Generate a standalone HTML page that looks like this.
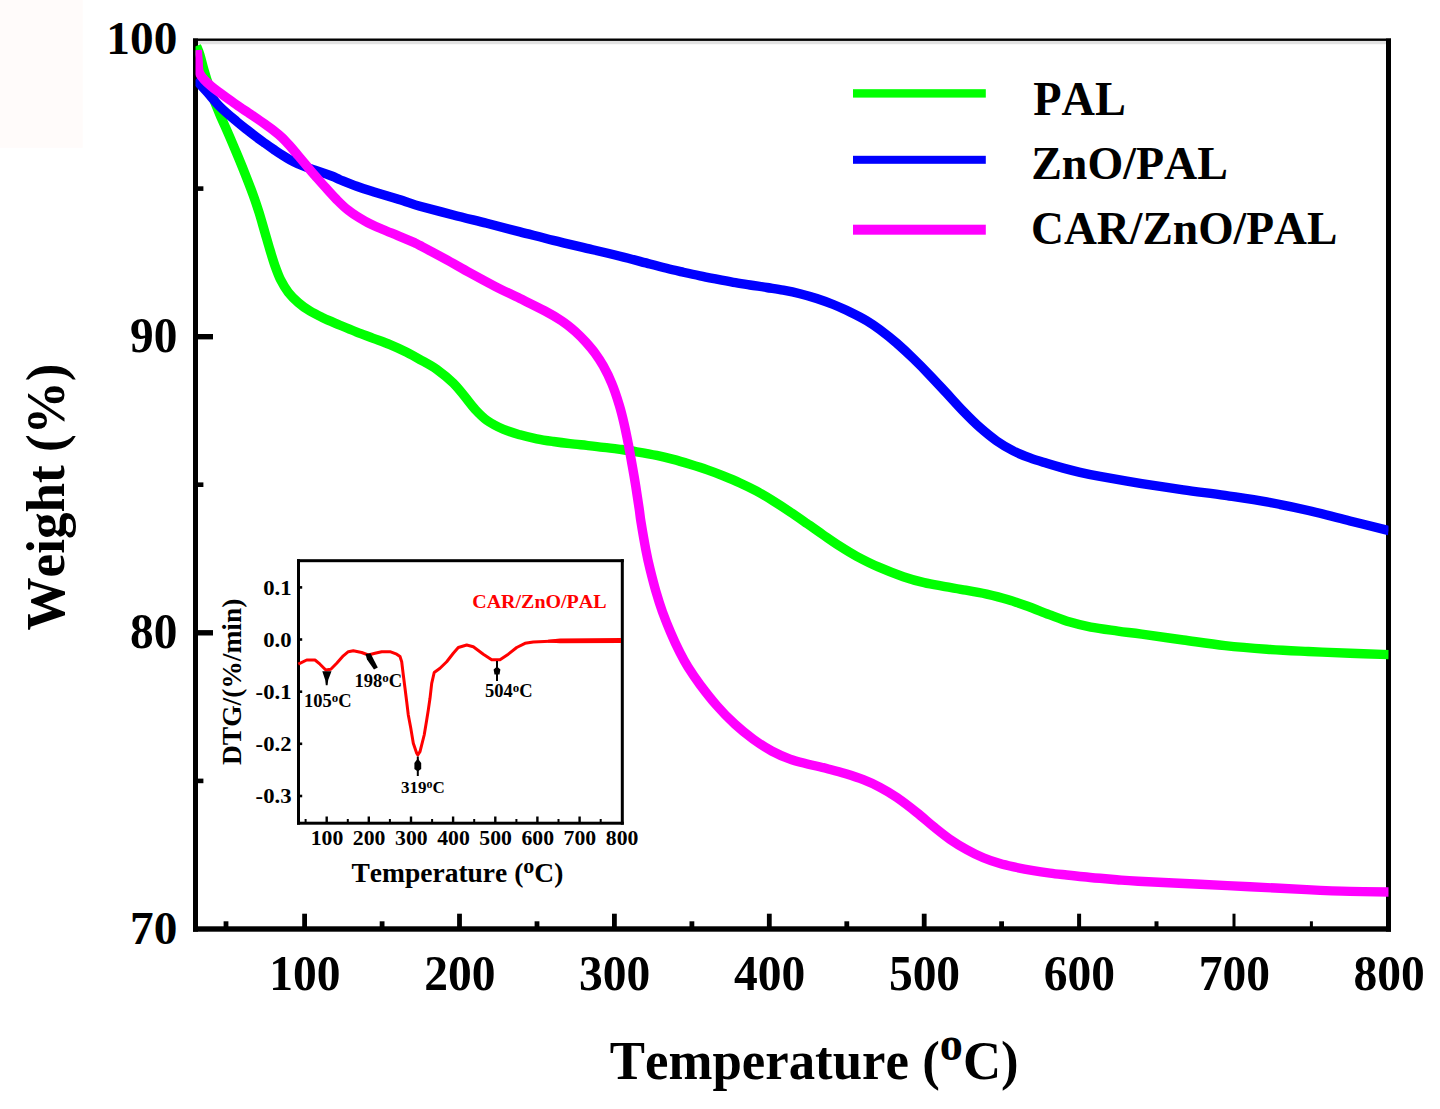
<!DOCTYPE html>
<html lang="en">
<head>
<meta charset="utf-8">
<title>TGA curves of PAL, ZnO/PAL and CAR/ZnO/PAL</title>
<style>
html,body{margin:0;padding:0;background:#fff;}
body{width:1440px;height:1109px;overflow:hidden;}
svg{display:block;font-family:"Liberation Serif",serif;}
text{font-family:"Liberation Serif",serif;font-kerning:none;}
</style>
</head>
<body>
<svg width="1440" height="1109" viewBox="0 0 1440 1109">
<defs><clipPath id="plotclip"><rect x="195.5" y="41" width="1193" height="886"/></clipPath></defs>
<rect x="0" y="0" width="82.7" height="147.8" fill="#fffbfa"/>
<rect x="193" y="40.8" width="1198" height="3.4" fill="#e2e2e2"/>
<rect x="193" y="38.5" width="1198" height="2.4" fill="#000"/>
<rect x="193" y="38.5" width="5" height="893.2" fill="#000"/>
<rect x="1386" y="38.5" width="5" height="893.2" fill="#000"/>
<rect x="193" y="926.3" width="1198" height="5.4" fill="#000"/>
<rect x="197" y="334.0" width="16" height="5.4" fill="#000"/>
<rect x="197" y="630.1" width="16" height="5.4" fill="#000"/>
<rect x="197" y="186.3" width="6.4" height="4.6" fill="#000"/>
<rect x="197" y="482.4" width="6.4" height="4.6" fill="#000"/>
<rect x="197" y="778.6" width="6.4" height="4.6" fill="#000"/>
<rect x="302.2" y="913.7" width="4.8" height="14" fill="#000"/>
<rect x="457.1" y="913.7" width="4.8" height="14" fill="#000"/>
<rect x="612.0" y="913.7" width="4.8" height="14" fill="#000"/>
<rect x="766.9" y="913.7" width="4.8" height="14" fill="#000"/>
<rect x="921.8" y="913.7" width="4.8" height="14" fill="#000"/>
<rect x="1077.1" y="913.7" width="4.0" height="14" fill="#000"/>
<rect x="1232.5" y="913.7" width="3.0" height="14" fill="#000"/>
<rect x="223.6" y="921.3" width="4.8" height="6" fill="#000"/>
<rect x="379.7" y="921.3" width="4.8" height="6" fill="#000"/>
<rect x="534.6" y="921.3" width="4.8" height="6" fill="#000"/>
<rect x="689.5" y="921.3" width="4.8" height="6" fill="#000"/>
<rect x="844.4" y="921.3" width="4.8" height="6" fill="#000"/>
<rect x="999.2" y="921.3" width="4.8" height="6" fill="#000"/>
<rect x="1154.5" y="921.3" width="4.0" height="6" fill="#000"/>
<rect x="1309.9" y="921.3" width="3.0" height="6" fill="#000"/>
<g fill="none" stroke-linejoin="round" stroke-linecap="butt" clip-path="url(#plotclip)">
<path d="M196.5 46.0C197.1 47.5 198.8 51.0 200.0 55.0C201.2 59.0 202.5 64.8 204.0 70.0C205.5 75.2 207.3 81.0 209.0 86.0C210.7 91.0 212.2 95.4 214.0 100.2C215.8 105.0 217.6 109.2 220.0 114.8C222.4 120.4 225.5 127.2 228.3 133.6C231.1 140.0 233.9 146.7 236.7 153.4C239.5 160.0 242.2 166.7 245.0 173.7C247.8 180.7 250.9 188.8 253.3 195.3C255.7 201.9 257.2 206.6 259.2 212.9C261.1 219.1 263.2 226.7 265.0 232.8C266.8 239.0 268.3 244.5 270.0 250.0C271.7 255.5 273.2 260.8 275.0 265.8C276.8 270.8 278.6 275.8 280.8 280.2C283.0 284.6 285.4 288.5 288.3 292.3C291.2 296.0 294.7 299.5 298.3 302.6C301.9 305.8 305.8 308.5 310.0 311.1C314.2 313.7 318.3 315.6 323.3 318.0C328.3 320.3 334.4 322.8 340.0 325.2C345.6 327.5 351.1 329.9 356.7 332.1C362.2 334.3 367.8 336.2 373.3 338.3C378.9 340.4 384.4 342.2 390.0 344.6C395.6 346.9 401.7 349.8 406.7 352.3C411.7 354.8 415.0 356.7 420.0 359.6C425.0 362.4 431.1 365.5 436.7 369.4C442.2 373.4 448.6 378.6 453.3 383.1C458.0 387.7 461.4 392.5 465.0 396.8C468.6 401.2 471.4 405.3 475.0 409.2C478.6 413.1 482.0 416.8 486.7 420.2C491.4 423.5 497.8 426.8 503.3 429.3C508.9 431.7 514.4 433.2 520.0 434.8C525.6 436.4 531.2 437.7 536.7 438.8C542.2 439.9 547.8 440.7 553.3 441.5C558.8 442.3 564.4 443.0 570.0 443.6C575.6 444.3 581.2 444.8 586.7 445.4C592.2 446.0 597.8 446.6 603.3 447.3C608.8 447.9 614.4 448.6 620.0 449.3C625.6 450.1 630.6 450.8 636.7 451.8C642.8 452.8 650.6 454.1 656.7 455.4C662.8 456.6 667.8 457.9 673.3 459.4C678.8 460.8 684.4 462.5 690.0 464.2C695.6 465.9 701.2 467.6 706.7 469.6C712.2 471.5 717.8 473.6 723.3 475.8C728.8 478.0 734.4 480.3 740.0 482.9C745.6 485.4 751.2 488.2 756.7 491.2C762.2 494.2 767.8 497.5 773.3 501.0C778.8 504.4 784.4 508.1 790.0 511.9C795.6 515.6 801.2 519.5 806.7 523.3C812.2 527.2 817.8 531.2 823.3 535.0C828.8 538.8 834.4 542.8 840.0 546.3C845.6 549.9 850.3 552.9 856.7 556.3C863.1 559.7 870.5 563.5 878.3 566.9C886.1 570.3 895.6 574.0 903.3 576.7C910.9 579.3 917.2 581.0 924.2 582.6C931.2 584.3 938.1 585.3 945.0 586.6C951.9 587.8 958.8 588.8 965.8 590.1C972.8 591.3 979.8 592.5 986.7 594.1C993.7 595.7 1000.6 597.4 1007.5 599.5C1014.4 601.5 1021.3 604.0 1028.3 606.5C1035.2 609.0 1042.2 612.0 1049.2 614.6C1056.2 617.2 1063.1 620.0 1070.0 622.1C1076.9 624.2 1082.8 625.6 1090.8 627.1C1098.8 628.6 1109.4 629.9 1117.9 631.1C1126.4 632.3 1130.8 632.6 1141.7 634.1C1152.6 635.6 1169.4 638.1 1183.3 640.0C1197.2 641.9 1211.1 644.1 1225.0 645.6C1238.9 647.1 1252.8 648.2 1266.7 649.2C1280.6 650.2 1294.4 650.8 1308.3 651.5C1322.2 652.2 1336.5 652.8 1350.0 653.3C1363.5 653.8 1382.5 654.4 1389.0 654.6" stroke="#00ff00" stroke-width="9.4"/>
<path d="M195.5 79.5C197.4 81.5 202.6 87.2 206.7 91.7C210.8 96.2 215.0 101.7 220.0 106.7C225.0 111.7 232.0 117.5 236.7 121.5C241.4 125.5 245.0 128.2 248.3 130.8C251.6 133.4 253.9 135.2 256.7 137.3C259.5 139.4 262.2 141.3 265.0 143.3C267.8 145.3 270.5 147.2 273.3 149.2C276.1 151.1 278.9 153.1 281.7 154.8C284.5 156.6 287.2 158.3 290.0 159.8C292.8 161.3 295.5 162.7 298.3 164.0C301.1 165.2 303.9 166.3 306.7 167.3C309.5 168.3 310.8 168.6 315.0 170.1C319.2 171.5 327.5 174.4 331.7 176.0C335.9 177.6 335.8 177.9 340.0 179.7C344.2 181.4 351.1 184.3 356.7 186.3C362.2 188.3 367.8 190.0 373.3 191.7C378.9 193.4 384.4 195.0 390.0 196.7C395.6 198.4 401.7 200.4 406.7 201.9C411.7 203.5 412.2 204.0 420.0 206.2C427.8 208.3 442.2 212.1 453.3 215.0C464.4 217.9 475.6 220.5 486.7 223.3C497.8 226.1 508.9 229.0 520.0 231.9C531.1 234.7 542.2 237.7 553.3 240.4C564.4 243.2 575.6 245.7 586.7 248.3C597.8 250.9 609.5 253.6 620.0 256.2C630.5 258.8 642.2 262.0 650.0 264.0C657.8 266.1 661.2 267.0 666.7 268.3C672.2 269.7 677.8 271.0 683.3 272.3C688.8 273.5 694.4 274.7 700.0 275.8C705.6 277.0 711.2 278.1 716.7 279.2C722.2 280.3 727.8 281.4 733.3 282.3C738.8 283.3 744.4 284.1 750.0 285.0C755.6 285.9 761.2 286.6 766.7 287.5C772.2 288.4 777.8 289.1 783.3 290.2C788.8 291.2 794.4 292.3 800.0 293.7C805.6 295.1 811.2 296.7 816.7 298.5C822.2 300.3 827.8 302.3 833.3 304.5C838.8 306.8 844.4 309.2 850.0 311.9C855.6 314.6 861.7 317.7 866.7 320.7C871.7 323.7 875.0 326.0 880.0 329.7C885.0 333.4 891.2 338.3 896.7 343.1C902.2 347.9 907.8 353.1 913.3 358.5C918.8 363.8 924.4 369.5 930.0 375.4C935.6 381.2 941.2 387.4 946.7 393.3C952.2 399.3 957.8 405.6 963.3 411.3C968.8 417.0 974.4 422.6 980.0 427.6C985.6 432.5 991.2 437.1 996.7 441.0C1002.2 444.9 1007.8 448.1 1013.3 450.9C1018.8 453.8 1024.4 455.9 1030.0 457.9C1035.6 460.0 1041.2 461.6 1046.7 463.3C1052.2 465.0 1057.8 466.6 1063.3 468.1C1068.8 469.6 1073.9 470.9 1080.0 472.3C1086.1 473.7 1089.7 474.5 1100.0 476.4C1110.3 478.2 1127.8 481.3 1141.7 483.6C1155.6 485.8 1169.4 487.8 1183.3 489.8C1197.2 491.8 1211.1 493.4 1225.0 495.4C1238.9 497.5 1252.8 499.4 1266.7 501.9C1280.6 504.5 1294.4 507.3 1308.3 510.5C1322.2 513.7 1336.5 517.6 1350.0 521.0C1363.5 524.3 1382.5 529.0 1389.0 530.6" stroke="#0000ff" stroke-width="9.4"/>
<path d="M197.3 50.0C197.4 51.7 197.6 56.0 198.0 60.0C198.4 64.0 197.7 69.5 200.0 74.0C202.3 78.5 206.4 82.2 211.7 86.7C217.0 91.2 227.0 97.8 231.7 101.2C236.4 104.6 237.2 105.3 240.0 107.2C242.8 109.1 245.5 110.8 248.3 112.7C251.1 114.5 253.9 116.4 256.7 118.3C259.5 120.3 262.2 122.2 265.0 124.2C267.8 126.2 270.5 128.0 273.3 130.2C276.1 132.4 278.9 134.6 281.7 137.2C284.5 139.9 287.2 142.9 290.0 146.0C292.8 149.1 295.5 152.5 298.3 155.8C301.1 159.1 303.9 162.5 306.7 165.8C309.5 169.1 311.9 172.1 315.0 175.6C318.1 179.1 321.5 183.1 325.0 186.9C328.5 190.8 332.1 194.9 336.0 198.9C339.9 202.8 343.5 206.6 348.3 210.3C353.1 214.1 359.4 218.0 365.0 221.1C370.6 224.3 376.1 226.6 381.7 229.0C387.2 231.5 392.8 233.5 398.3 235.8C403.9 238.1 411.4 241.3 415.0 242.9C418.6 244.6 415.0 242.9 420.0 245.5C425.0 248.2 436.7 254.3 445.0 258.9C453.3 263.4 461.7 268.4 470.0 272.9C478.3 277.5 486.7 282.0 495.0 286.3C503.3 290.6 511.7 294.4 520.0 298.5C528.3 302.6 538.0 307.3 545.0 311.0C552.0 314.7 556.7 317.5 561.7 320.9C566.7 324.2 571.0 327.8 575.0 331.3C579.0 334.9 582.7 338.7 586.0 342.3C589.3 346.0 592.1 349.2 595.0 353.1C597.9 357.1 600.5 360.9 603.3 365.9C606.1 370.9 609.1 376.8 611.7 383.3C614.4 389.7 617.1 398.0 619.2 404.8C621.3 411.6 622.7 417.6 624.2 424.2C625.7 430.7 626.9 436.8 628.3 443.9C629.7 451.1 631.2 460.0 632.5 467.1C633.8 474.2 634.7 479.6 635.8 486.6C636.9 493.5 638.3 503.0 639.2 508.9C640.1 514.8 639.9 515.4 641.0 522.1C642.1 528.9 644.3 541.8 645.8 549.6C647.3 557.4 648.3 562.0 650.0 568.9C651.7 575.8 653.7 583.8 655.8 591.0C657.9 598.2 660.0 605.0 662.5 612.0C665.0 618.9 667.9 626.1 670.8 632.8C673.7 639.6 677.1 647.0 680.0 652.7C682.9 658.4 684.7 661.8 688.0 667.1C691.3 672.4 695.2 678.2 700.0 684.6C704.8 691.0 710.9 698.9 716.7 705.5C722.5 712.2 728.9 718.7 735.0 724.3C741.1 729.9 747.2 734.8 753.3 739.3C759.4 743.7 765.6 747.7 771.7 751.0C777.8 754.3 783.9 756.9 790.0 759.1C796.1 761.3 802.2 762.6 808.3 764.2C814.4 765.7 820.6 766.9 826.7 768.5C832.8 770.1 838.9 771.6 845.0 773.5C851.1 775.4 857.5 777.4 863.3 779.7C869.1 782.0 874.4 784.3 880.0 787.3C885.6 790.2 890.6 793.2 896.7 797.4C902.8 801.6 910.6 807.6 916.7 812.5C922.8 817.3 927.8 821.9 933.3 826.4C938.8 830.8 944.4 835.4 950.0 839.3C955.6 843.2 961.2 846.6 966.7 849.6C972.2 852.7 977.8 855.4 983.3 857.8C988.8 860.1 994.4 862.0 1000.0 863.6C1005.6 865.3 1011.2 866.3 1016.7 867.5C1022.2 868.7 1027.8 869.7 1033.3 870.6C1038.8 871.6 1044.4 872.4 1050.0 873.1C1055.6 873.9 1061.2 874.4 1066.7 875.0C1072.2 875.6 1077.8 876.2 1083.3 876.7C1088.8 877.3 1094.4 877.8 1100.0 878.3C1105.6 878.8 1110.3 879.2 1116.7 879.7C1123.1 880.2 1124.4 880.5 1138.3 881.3C1152.2 882.0 1181.4 883.4 1200.0 884.3C1218.6 885.2 1232.2 885.8 1250.0 886.7C1267.8 887.6 1290.0 888.9 1306.7 889.6C1323.4 890.4 1336.3 891.0 1350.0 891.4C1363.7 891.7 1382.5 891.9 1389.0 892.0" stroke="#ff00ff" stroke-width="9.4"/>
</g>
<rect x="853" y="89.2" width="132.8" height="8.4" fill="#00ff00"/>
<rect x="853" y="155.8" width="132.8" height="8" fill="#0000ff"/>
<rect x="853" y="224.7" width="132.8" height="10" fill="#ff00ff"/>
<text transform="translate(1033.20 115.30) scale(1.0410 1.0800)" font-size="44.5" text-anchor="start" fill="#000" font-weight="bold">PAL</text>
<text transform="translate(1031.20 179.20) scale(1.0330 1.0500)" font-size="44.5" text-anchor="start" fill="#000" font-weight="bold">ZnO/PAL</text>
<text transform="translate(1031.00 243.70) scale(1.0245 1.0600)" font-size="44.5" text-anchor="start" fill="#000" font-weight="bold">CAR/ZnO/PAL</text>
<text transform="translate(177.30 54.00) scale(1.0000 0.9750)" font-size="47.3" text-anchor="end" fill="#000" font-weight="bold">100</text>
<text transform="translate(177.30 352.30) scale(1.0000 1.0500)" font-size="47.3" text-anchor="end" fill="#000" font-weight="bold">90</text>
<text transform="translate(177.30 648.40) scale(1.0000 1.0500)" font-size="47.3" text-anchor="end" fill="#000" font-weight="bold">80</text>
<text transform="translate(177.30 944.30) scale(1.0000 0.9750)" font-size="47.3" text-anchor="end" fill="#000" font-weight="bold">70</text>
<text transform="translate(304.90 990.00) scale(1.0000 1.0700)" font-size="47.5" text-anchor="middle" fill="#000" font-weight="bold">100</text>
<text transform="translate(459.80 990.00) scale(1.0000 1.0700)" font-size="47.5" text-anchor="middle" fill="#000" font-weight="bold">200</text>
<text transform="translate(614.70 990.00) scale(1.0000 1.0700)" font-size="47.5" text-anchor="middle" fill="#000" font-weight="bold">300</text>
<text transform="translate(769.60 990.00) scale(1.0000 1.0700)" font-size="47.5" text-anchor="middle" fill="#000" font-weight="bold">400</text>
<text transform="translate(924.50 990.00) scale(1.0000 1.0700)" font-size="47.5" text-anchor="middle" fill="#000" font-weight="bold">500</text>
<text transform="translate(1079.40 990.00) scale(1.0000 1.0700)" font-size="47.5" text-anchor="middle" fill="#000" font-weight="bold">600</text>
<text transform="translate(1234.30 990.00) scale(1.0000 1.0700)" font-size="47.5" text-anchor="middle" fill="#000" font-weight="bold">700</text>
<text transform="translate(1389.20 990.00) scale(1.0000 1.0700)" font-size="47.5" text-anchor="middle" fill="#000" font-weight="bold">800</text>
<text transform="translate(64.40 630.50) rotate(-90) scale(1.0115 1.0400)" font-size="52.5" text-anchor="start" fill="#000" font-weight="bold">Weight (%)</text>
<text transform="translate(609.8 1079.4) scale(1.006 1.035)" font-size="52.5" font-weight="bold">Temperature (<tspan dy="-19" font-size="46">o</tspan><tspan dy="19">C)</tspan></text>
<rect x="297" y="559.2" width="326.8" height="265.5" fill="none" stroke="none"/>
<rect x="297" y="559.2" width="326.8" height="3" fill="#000"/>
<rect x="297" y="821.7" width="326.8" height="3" fill="#000"/>
<rect x="297" y="559.2" width="3" height="265.5" fill="#000"/>
<rect x="620.8" y="559.2" width="3" height="265.5" fill="#000"/>
<rect x="325.5" y="816.5" width="2.4" height="6" fill="#000"/>
<rect x="367.6" y="816.5" width="2.4" height="6" fill="#000"/>
<rect x="409.8" y="816.5" width="2.4" height="6" fill="#000"/>
<rect x="451.9" y="816.5" width="2.4" height="6" fill="#000"/>
<rect x="494.1" y="816.5" width="2.4" height="6" fill="#000"/>
<rect x="536.2" y="816.5" width="2.4" height="6" fill="#000"/>
<rect x="578.4" y="816.5" width="2.4" height="6" fill="#000"/>
<rect x="304.6" y="819" width="2" height="3.5" fill="#000"/>
<rect x="346.8" y="819" width="2" height="3.5" fill="#000"/>
<rect x="388.9" y="819" width="2" height="3.5" fill="#000"/>
<rect x="431.1" y="819" width="2" height="3.5" fill="#000"/>
<rect x="473.2" y="819" width="2" height="3.5" fill="#000"/>
<rect x="515.4" y="819" width="2" height="3.5" fill="#000"/>
<rect x="557.5" y="819" width="2" height="3.5" fill="#000"/>
<rect x="599.7" y="819" width="2" height="3.5" fill="#000"/>
<rect x="299" y="586.1" width="3.2" height="2.6" fill="#000"/>
<text transform="translate(291.50 594.55) scale(1.0800 1.0000)" font-size="21" text-anchor="end" fill="#000" font-weight="bold">0.1</text>
<rect x="299" y="638.2" width="3.2" height="2.6" fill="#000"/>
<text transform="translate(291.50 646.70) scale(1.0800 1.0000)" font-size="21" text-anchor="end" fill="#000" font-weight="bold">0.0</text>
<rect x="299" y="690.4" width="3.2" height="2.6" fill="#000"/>
<text transform="translate(291.50 698.85) scale(1.0800 1.0000)" font-size="21" text-anchor="end" fill="#000" font-weight="bold">-0.1</text>
<rect x="299" y="742.5" width="3.2" height="2.6" fill="#000"/>
<text transform="translate(291.50 751.00) scale(1.0800 1.0000)" font-size="21" text-anchor="end" fill="#000" font-weight="bold">-0.2</text>
<rect x="299" y="794.7" width="3.2" height="2.6" fill="#000"/>
<text transform="translate(291.50 803.15) scale(1.0800 1.0000)" font-size="21" text-anchor="end" fill="#000" font-weight="bold">-0.3</text>
<text transform="translate(327.00 844.60) scale(1.0600 1.0000)" font-size="20.5" text-anchor="middle" fill="#000" font-weight="bold">100</text>
<text transform="translate(369.15 844.60) scale(1.0600 1.0000)" font-size="20.5" text-anchor="middle" fill="#000" font-weight="bold">200</text>
<text transform="translate(411.30 844.60) scale(1.0600 1.0000)" font-size="20.5" text-anchor="middle" fill="#000" font-weight="bold">300</text>
<text transform="translate(453.45 844.60) scale(1.0600 1.0000)" font-size="20.5" text-anchor="middle" fill="#000" font-weight="bold">400</text>
<text transform="translate(495.60 844.60) scale(1.0600 1.0000)" font-size="20.5" text-anchor="middle" fill="#000" font-weight="bold">500</text>
<text transform="translate(537.75 844.60) scale(1.0600 1.0000)" font-size="20.5" text-anchor="middle" fill="#000" font-weight="bold">600</text>
<text transform="translate(579.90 844.60) scale(1.0600 1.0000)" font-size="20.5" text-anchor="middle" fill="#000" font-weight="bold">700</text>
<text transform="translate(622.05 844.60) scale(1.0600 1.0000)" font-size="20.5" text-anchor="middle" fill="#000" font-weight="bold">800</text>
<path d="M298.3 664.2L306.7 660.0L315.0 660.0L320.0 664.2L325.8 670.0L330.8 669.2L336.7 663.3L343.3 655.8L348.3 651.7L353.3 650.8L361.7 652.5L368.3 655.0L375.0 653.3L381.7 651.7L390.0 651.7L396.7 654.2L400.0 656.5L401.7 661.7L403.3 675.0L405.0 688.3L406.7 701.7L408.3 715.0L410.8 728.3L413.3 743.3L416.7 753.3L417.8 755.0L420.0 751.7L424.2 735.0L426.7 720.0L428.3 710.0L430.0 698.3L431.7 683.3L434.2 672.5L440.0 668.3L446.7 661.7L453.3 653.3L458.3 647.5L466.7 645.0L473.3 646.7L483.3 654.2L491.7 659.7L500.0 659.7L508.3 654.2L516.7 647.5L525.0 643.3L533.3 642.0L550.0 641.2L566.7 640.8L621.0 640.5" fill="none" stroke="#ff0000" stroke-width="3" stroke-linejoin="round"/>
<polygon points="548,639.8 560,638.4 621,638 621,643 560,643.2 548,642.6" fill="#ff0000"/>
<text transform="translate(606.60 607.50) scale(1.0000 0.9700)" font-size="20" text-anchor="end" fill="#ff0000" font-weight="bold">CAR/ZnO/PAL</text>
<text transform="translate(241.00 765.00) rotate(-90) scale(1.0180 1.0000)" font-size="27" text-anchor="start" fill="#000" font-weight="bold">DTG/(%/min)</text>
<text transform="translate(351.5 881.9)" font-size="27.5" font-weight="bold">Temperature (<tspan dy="-9" font-size="22">o</tspan><tspan dy="9">C)</tspan></text>
<text transform="translate(304.0 707.3)" font-size="18.5" font-weight="bold">105<tspan dy="-5" font-size="12.95">o</tspan><tspan dy="5">C</tspan></text>
<text transform="translate(354.5 686.5)" font-size="18.5" font-weight="bold">198<tspan dy="-5" font-size="12.95">o</tspan><tspan dy="5">C</tspan></text>
<text transform="translate(401.0 793.3)" font-size="17" font-weight="bold">319<tspan dy="-5" font-size="11.9">o</tspan><tspan dy="5">C</tspan></text>
<text transform="translate(485.0 696.5)" font-size="18.5" font-weight="bold">504<tspan dy="-5" font-size="12.95">o</tspan><tspan dy="5">C</tspan></text>
<polygon points="322.3,671.2 331.5,671.2 328.2,680 327.6,685.3 325.8,685.3 325.2,680" fill="#000"/>
<polygon points="365.5,654 370.5,653.2 377.8,667.5 374,669.5 367,659.5" fill="#000"/>
<rect x="416.8" y="756.5" width="2" height="19.5" fill="#000"/>
<polygon points="417.8,758.5 421.2,763 421.2,769 417.8,771.5 414.4,769 414.4,763" fill="#000"/>
<rect x="496" y="661" width="2" height="20" fill="#000"/>
<polygon points="497,666.5 500.4,669.5 499.5,674.5 494.5,674.5 493.6,669.5" fill="#000"/>
</svg>
</body>
</html>
